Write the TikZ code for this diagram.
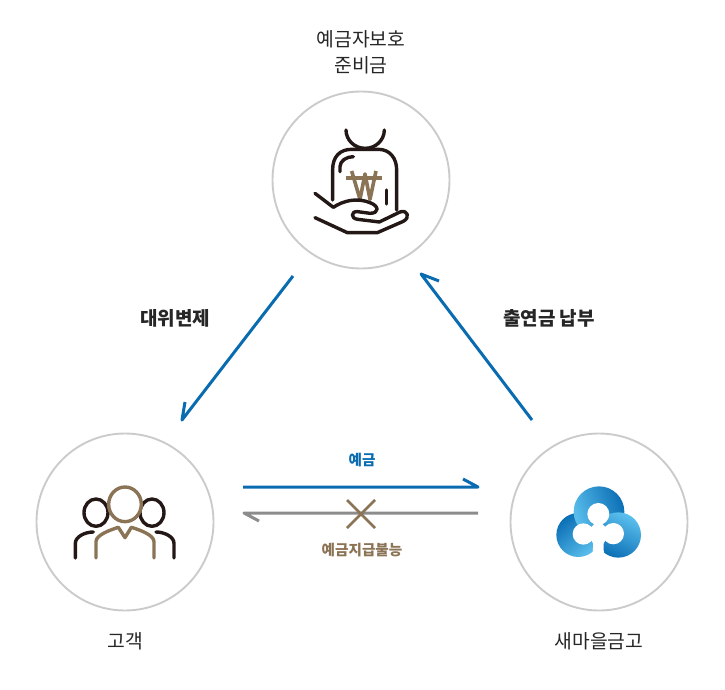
\documentclass[tikz,border=0pt]{standalone}
\usepackage{fontspec}
\setmainfont{Noto Sans CJK KR}
\definecolor{ringc}{HTML}{CBCBCB}
\definecolor{bluec}{HTML}{0A6CB0}
\definecolor{greyc}{HTML}{8C8C8C}
\definecolor{brownc}{HTML}{8B7355}
\definecolor{darkc}{HTML}{231815}
\definecolor{logod}{HTML}{0B6FB5}
\definecolor{logol}{HTML}{5CC0EE}
\begin{document}
\begin{tikzpicture}[x=1pt,y=-1pt,
  ring/.style={circle,draw=ringc,line width=1.9pt,minimum size=177pt,inner sep=0pt},
  lab/.style={font=\fontsize{19.3}{26}\selectfont,text=black!85,align=center,inner sep=0pt},
  blab/.style={font=\fontsize{19}{24}\selectfont\bfseries,text=black!85,inner sep=0pt},
  slabb/.style={font=\fontsize{14.6}{16}\selectfont\bfseries,text=bluec,inner sep=0pt},
  slabg/.style={font=\fontsize{14.6}{16}\selectfont\bfseries,text=brownc,inner sep=0pt},
  conn/.style={line width=3pt,line join=round},
  icon/.style={line width=3.4pt,draw=darkc,line cap=round,line join=round},
  iconb/.style={line width=3.4pt,draw=brownc,line cap=round,line join=round}]
\useasboundingbox (0,0) rectangle (725,690);
\node[ring] (top) at (361,180) {};
\node[ring] (left) at (125,522) {};
\node[ring] (right) at (599,522) {};
\node[lab] (ttop) at (361,52) {예금자보호\\준비금};
\node[lab] (tleft) at (125,641) {고객};
\node[lab] (tright) at (599,641) {새마을금고};
\node[blab] (tdw) at (175,318) {대위변제};
\node[blab] (tpay) at (549,318) {출연금 납부};
\node[slabb] (tdep) at (362,460) {예금};
\node[slabg] (tno) at (362,550) {예금지급불능};
\coordinate (a1) at (293,276); \coordinate (a2) at (182,420);
\coordinate (b1) at (532,420); \coordinate (b2) at (421,274);
\coordinate (c1) at (243,487); \coordinate (c2) at (478,487);
\coordinate (d1) at (478,513); \coordinate (d2) at (244,513);
\draw[conn,draw=bluec] (a1) -- (a2) -- ++(3,-18);
\draw[conn,draw=bluec] (b1) -- (b2) -- ++(18,7);
\draw[conn,draw=bluec] (c1) -- (c2) -- ++(-15,-8);
\draw[conn,draw=greyc] (d1) -- (d2) -- ++(15,8);
\draw[brownc,line width=2.8pt] (347,500) -- (375,528) (375,500) -- (347,528);
% money bag
\begin{scope}[shift={(290,110)},x=0.3333pt,y=-0.3333pt]
 \draw[icon] (168,60) arc[start angle=180,end angle=0,x radius=57.5,y radius=55];
 \draw[icon] (128,270) -- (128,178) .. controls (128,140) and (150,118) .. (185,118) -- (265,118) .. controls (300,118) and (320,145) .. (320,180) -- (320,300);
 \draw[icon] (150,185) -- (150,170) .. controls (150,152) and (170,140) .. (190,140);
 \draw[icon] (290,240) -- (290,282);
 \draw[iconb,line cap=butt] (168,204) -- (275,204);
 \draw[iconb,line width=3.6pt,line cap=butt] (185,183) -- (210,268) -- (225,192) -- (240,268) -- (258,183);
 \draw[icon,fill=white] (75,250) -- (130,292) .. controls (160,272) and (200,262) .. (240,278) .. controls (268,288) and (268,310) .. (240,310) -- (203,305) .. controls (182,303) and (182,326) .. (203,328) -- (268,336) -- (330,306) .. controls (352,298) and (362,322) .. (340,334) -- (262,368) -- (172,368) -- (75,323);
\end{scope}
% people
\begin{scope}[shift={(60,470)},x=0.3333pt,y=-0.3333pt]
 \draw[icon] (108,128) ellipse[x radius=36,y radius=41];
 \draw[icon] (276,128) ellipse[x radius=36,y radius=41];
 \draw[icon] (46,264) -- (46,220) .. controls (46,200) and (75,186) .. (100,186);
 \draw[icon] (342,264) -- (342,220) .. controls (342,200) and (313,186) .. (288,186);
 \draw[iconb,fill=white] (195,103) ellipse[x radius=49,y radius=52];
 \draw[iconb] (108,264) -- (108,215) .. controls (108,195) and (150,180) .. (175,172) -- (195,203) -- (214,172) .. controls (240,180) and (282,195) .. (282,215) -- (282,264);
\end{scope}
% logo
\begin{scope}[shift={(540,470)},x=0.3333pt,y=-0.3333pt]
 \shade[top color=logod,bottom color=logol,shading angle=40] (115,195) circle[radius=66];
 \shade[top color=logod,bottom color=logol,shading angle=-70] (177,125) circle[radius=76];
 \shade[top color=logol,bottom color=logod,shading angle=-25] (235,195) circle[radius=68];
 \fill[white] (175,132) circle[radius=33] (130,192) circle[radius=32] (220,191) circle[radius=32];
 \fill[white] (175,150) -- (140,185) -- (160,222) -- (190,222) -- (210,185) -- cycle;
 \fill[white] (160,200) -- (190,200) -- (192,268) -- (158,268) -- cycle;
\end{scope}
\end{tikzpicture}
\end{document}
